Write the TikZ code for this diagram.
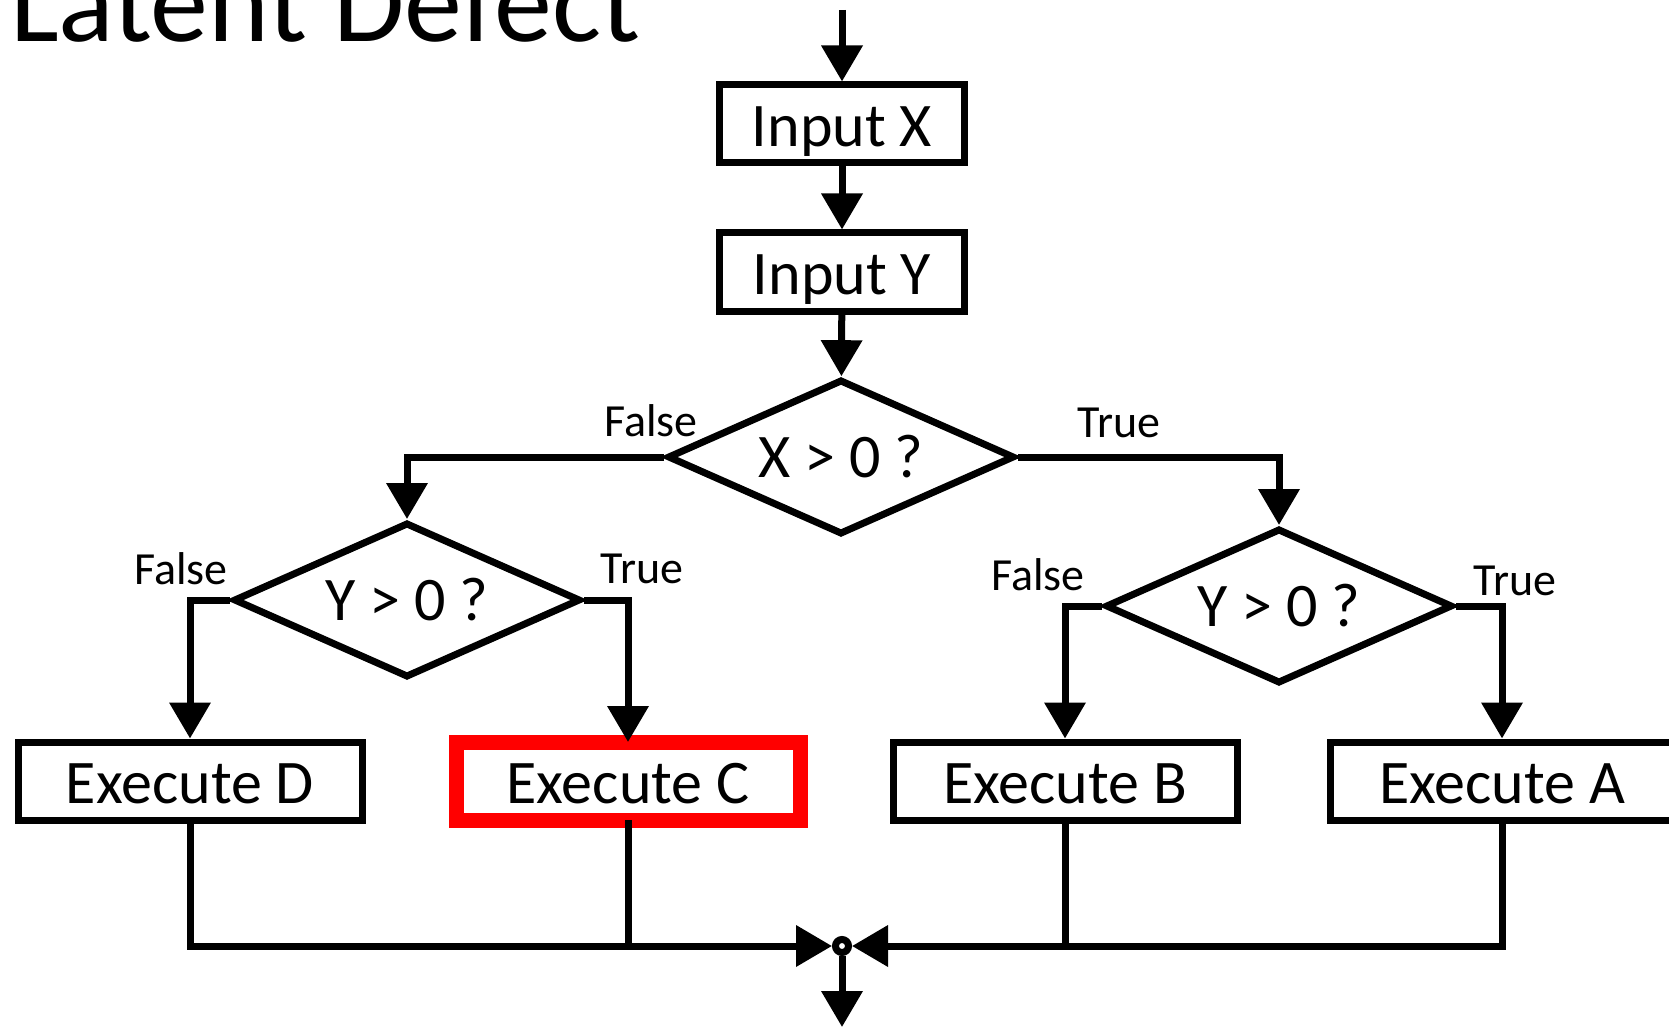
\documentclass[tikz,border=0pt]{standalone}
\usepackage{fontspec}
\setmainfont{Carlito}
\usetikzlibrary{arrows.meta, positioning, shapes.geometric}

\begin{document}
\begin{tikzpicture}[x=0.5pt, y=-0.5pt,
    line width=3.5pt,
    arr/.style={-{Triangle[length=18pt, width=20pt]}},
    box/.style={draw, rectangle, minimum width=172pt, minimum height=39pt, inner sep=0pt,
        text height=22.5pt, text depth=0pt, font=\fontsize{31}{37}\selectfont},
    inbox/.style={box, minimum width=122.5pt},
    decision/.style={draw, diamond, aspect=2.24, minimum width=173.5pt, minimum height=77.5pt,
        inner sep=0pt, text height=20.5pt, text depth=0pt, font=\fontsize{31}{37}\selectfont},
    branch/.style={font=\fontsize{23}{27}\selectfont}]
    \useasboundingbox (0,0) rectangle (1669,1027);

    \node[anchor=base west, font=\fontsize{58}{70}\selectfont] (title) at (0,42) {Latent Defect};

    % inputs
    \coordinate (start) at (842,10);
    \node[inbox] (inX) at (842,124) {Input X};
    \node[inbox] (inY) at (842,272) {Input Y};

    % decisions
    \node[decision] (dX) at (841,457) {X > 0 ?};
    \node[decision] (dL) at (407,600) {Y > 0 ?};
    \node[decision] (dR) at (1279,606) {Y > 0 ?};

    \node[branch] (lblXF) at (651,421) {False};
    \node[branch] (lblXT) at (1119,423) {True};
    \node[branch] (lblLF) at (181,569) {False};
    \node[branch] (lblLT) at (642,569) {True};
    \node[branch] (lblRF) at (1038,575) {False};
    \node[branch] (lblRT) at (1515,581) {True};

    % actions
    \node[box] (exD) at (190,781) {Execute D};
    \node[box, draw=red, line width=7.5pt, outer sep=0pt] (exC) at (628,781) {Execute C};
    \node[box] (exB) at (1065,781) {Execute B};
    \node[box] (exA) at (1502,781) {Execute A};

    % join
    \node[draw, circle, fill=white, minimum size=6.5pt, inner sep=0pt] (merge) at (842,946) {};
    \coordinate (stop) at (842,1027);

    \draw[arr] (start) -- (inX);
    \draw[arr] (inX) -- (inY);
    \draw[arr] (inY) -- (dX);
    \draw[arr] (dX.west) -| (dL.north);
    \draw[arr] (dX.east) -| (dR.north);
    \draw[arr] (dL.west) -| (exD.north);
    \draw[arr] (dL.east) -| (exC.north);
    \draw[arr] (dR.west) -| (exB.north);
    \draw[arr] (dR.east) -| (exA.north);

    \draw[arr] (exD.south) |- (merge.west);
    \draw (exC.south) -- (exC.south |- merge.west);
    \draw[arr] (exA.south) |- (merge.east);
    \draw (exB.south) -- (exB.south |- merge.east);
    \draw[arr] (merge.south) -- (stop);
\end{tikzpicture}
\end{document}
